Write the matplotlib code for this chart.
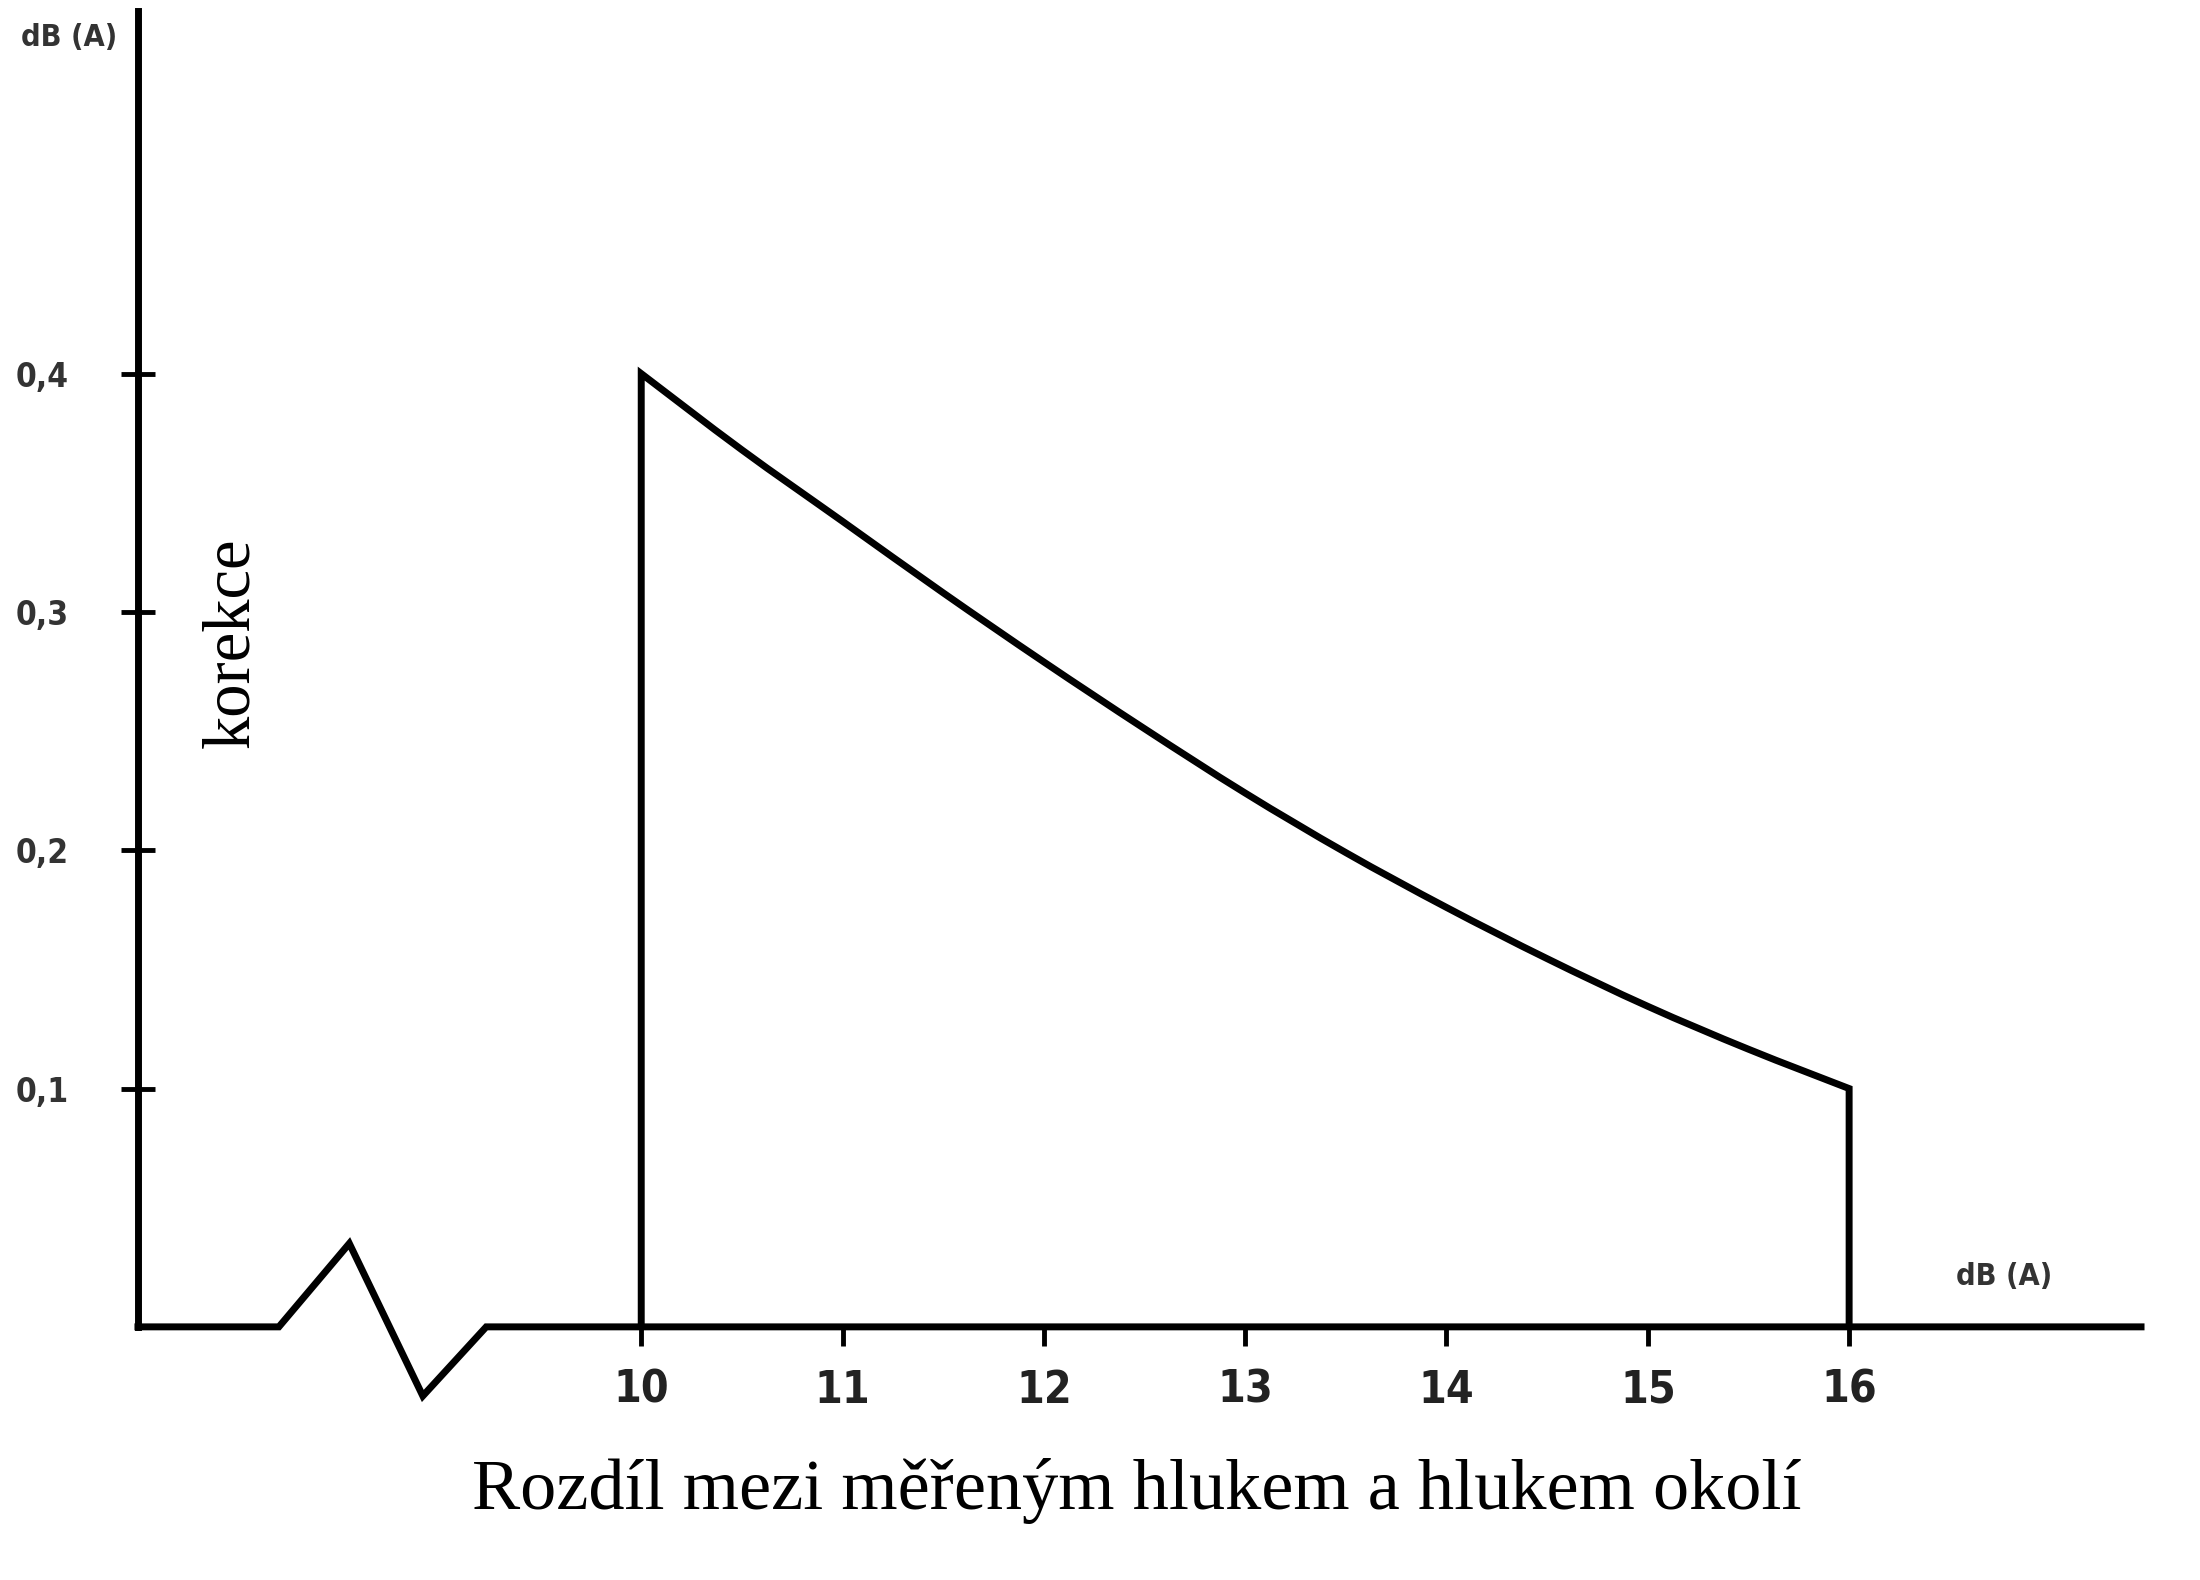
import numpy as np
import matplotlib.pyplot as plt
from matplotlib.path import Path
from matplotlib.patches import PathPatch

# korekce vs. rozdil hladin
diff_db = [10, 10.5, 11, 11.5, 12, 12.5, 13, 13.5, 14, 14.5, 15, 15.5, 16]
korekce = [0.40, 0.368, 0.338, 0.308, 0.279, 0.251, 0.224, 0.199, 0.176, 0.1545, 0.1345, 0.1165, 0.100]

x_ticks = [10, 11, 12, 13, 14, 15, 16]
y_ticks = [0.1, 0.2, 0.3, 0.4]
y_tick_labels = ["0,1", "0,2", "0,3", "0,4"]

# osa x s prerusenim (cik-cak)
axis_x = [7.5, 8.20, 8.55, 8.915, 9.23, 17.45]
axis_y = [0, 0, 0.035, -0.029, 0, 0]

x_min, x_max = 7.5, 17.45
y_min, y_max = -0.05, 0.552

LW = 5


def smooth_path(xs, ys):
    # hladka cara pres body (Catmull-Rom -> Bezier)
    pts = np.column_stack([xs, ys])
    verts = [pts[0]]
    codes = [Path.MOVETO]
    n = len(pts)
    for i in range(n - 1):
        p0 = pts[max(i - 1, 0)]
        p1 = pts[i]
        p2 = pts[i + 1]
        p3 = pts[min(i + 2, n - 1)]
        c1 = p1 + (p2 - p0) / 6
        c2 = p2 - (p3 - p1) / 6
        verts += [c1, c2, p2]
        codes += [Path.CURVE4] * 3
    return verts, codes


fig = plt.figure(figsize=(22, 15.8), dpi=100)
ax = fig.add_axes([0.0627, 0.0848, 0.9105, 0.908])

# krivka s vertikalnimi hranami na 10 a 16
verts, codes = smooth_path(diff_db, korekce)
verts = [(diff_db[0], 0)] + verts + [(diff_db[-1], 0)]
codes = [Path.MOVETO, Path.LINETO] + codes[1:] + [Path.LINETO]
ax.add_patch(PathPatch(Path(verts, codes), fill=False, edgecolor="black", lw=LW,
                       joinstyle="miter", clip_on=False))
ax.plot(axis_x, axis_y, color="black", lw=LW, solid_joinstyle="miter", clip_on=False)

ax.set_xlim(x_min, x_max)
ax.set_ylim(y_min, y_max)

ax.spines["top"].set_visible(False)
ax.spines["right"].set_visible(False)
ax.spines["bottom"].set_position(("data", 0))
ax.spines["bottom"].set_color("none")
ax.spines["left"].set_bounds(0, y_max)
ax.spines["left"].set_linewidth(LW)

ax.set_xticks(x_ticks)
ax.set_xticklabels([str(t) for t in x_ticks], family=["Liberation Sans Narrow", "DejaVu Sans"],
                   fontstretch="condensed", fontweight="bold", fontsize=32, color="#222222")
ax.tick_params(axis="x", direction="out", length=14, width=3.5, pad=16, color="black")

ax.set_yticks(y_ticks)
ax.set_yticklabels(y_tick_labels, family="DejaVu Sans", fontstretch="condensed",
                   fontweight="bold", fontsize=24, color="#333333")
ax.tick_params(axis="y", direction="inout", length=24, width=3.5, pad=38, color="black")

ax.text(7.16, 0.541, "dB (A)", fontsize=22, fontweight="bold", color="#333333",
        family="DejaVu Sans", fontstretch="condensed", ha="center", va="center", clip_on=False)
ax.text(16.77, 0.021, "dB (A)", fontsize=22, fontweight="bold", color="#333333",
        family="DejaVu Sans", fontstretch="condensed", ha="center", va="center", clip_on=False)

ax.text(7.967, 0.287, "korekce", rotation=90, fontsize=48, family="Liberation Serif",
        ha="center", va="center")
ax.text(12.46, -0.069, "Rozdíl mezi měřeným hlukem a hlukem okolí", fontsize=52,
        family="Liberation Serif", ha="center", va="center", clip_on=False)

fig.savefig("out.png", dpi=100)
